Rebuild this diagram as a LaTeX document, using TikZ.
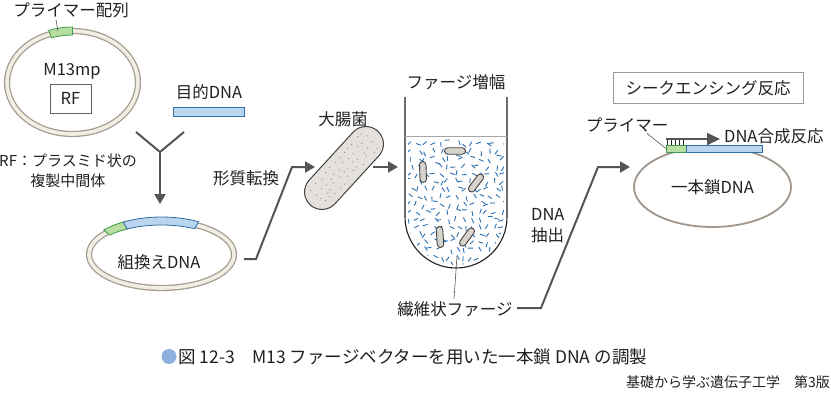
\documentclass[tikz,border=0pt]{standalone}
\usepackage{fontspec}
\setmainfont{Noto Sans CJK JP}
\usetikzlibrary{arrows.meta,shapes.geometric,shapes.misc}

\definecolor{txt}{HTML}{231F20}
\definecolor{conn}{HTML}{555555}
\definecolor{ringline}{HTML}{A69C92}
\definecolor{ringfill}{HTML}{F1EEE3}
\definecolor{primfill}{HTML}{B7DDA0}
\definecolor{primline}{HTML}{3D9B4B}
\definecolor{dnafill}{HTML}{BAD6EF}
\definecolor{dnaline}{HTML}{2F6EA5}
\definecolor{phageblue}{HTML}{2A6FB0}
\definecolor{cellfill}{HTML}{E4E1DD}
\definecolor{smallcell}{HTML}{D6D2CC}
\definecolor{dotgray}{HTML}{8C8C8C}
\definecolor{ssline}{HTML}{A0968C}
\definecolor{capblue}{HTML}{8EB0DC}

\begin{document}
\begin{tikzpicture}[x=1pt, y=-1pt,
    lbl/.style={font=\fontsize{16.5}{21}\selectfont, text=txt, inner sep=0pt},
    note/.style={font=\fontsize{15}{20}\selectfont, text=txt, inner sep=0pt},
    ring/.style={ellipse, draw=ringline, double=ringfill, double distance=3.6pt, line width=1.3pt, inner sep=0pt},
    flow/.style={draw=conn, line width=2pt, -{Triangle[width=11pt,length=10pt]}},
    primseg/.style={draw=primline, fill=primfill, line width=0.8pt},
    dnaseg/.style={draw=dnaline, fill=dnafill, line width=0.8pt},
    cell/.style={rounded rectangle, draw=txt!85, fill=cellfill, line width=1pt, inner sep=0pt},
    phagecell/.style={cell, fill=smallcell, line width=0.9pt, minimum width=21, minimum height=6.5},
    phage/.style={draw=phageblue, line width=0.9pt},
    leader/.style={draw=conn, line width=0.6pt}]

\useasboundingbox (0,0) rectangle (831,408);
\pgfmathsetseed{12}

% M13mp RF
\node[ring, minimum width=131, minimum height=103] (m13) at (72.5,82.5) {};
\draw[primseg] ([shift={(-110:69.5 and 55.5)}]m13.center) arc[start angle=-110, end angle=-90, x radius=69.5, y radius=55.5]
    -- ([shift={(-90:61.5 and 47.5)}]m13.center) arc[start angle=-90, end angle=-110, x radius=61.5, y radius=47.5] -- cycle;
\node[lbl] (primlab) at (71,10) {プライマー配列};
\coordinate (primtip) at (58,31);
\draw[leader] (primlab.south) ++(-15,2) -- (primtip);
\node[lbl] (m13lab) at (72,71) {M13mp};
\node[lbl, draw=txt!70, line width=0.8pt, minimum width=41, minimum height=29] (rf) at (70.5,98.5) {RF};
\node[note, align=center] (rfnote) at (68,171) {RF：プラスミド状の\\複製中間体};

% target DNA
\node[lbl] (tgtlab) at (209,92) {目的DNA};
\node[dnaseg, minimum width=71, minimum height=9, inner sep=0pt] (tgt) at (208.5,111.5) {};

% ligation
\coordinate (yl) at (136,132);
\coordinate (yr) at (184,132);
\coordinate (yj) at (160,152);
\coordinate (ytip) at (160,204);
\draw[conn, line width=2pt] (yl) -- (yj) -- (yr);
\draw[flow] (yj) -- (ytip);

% recombinant DNA
\node[ring, minimum width=145, minimum height=67] (recomb) at (161.5,254.5) {};
\draw[primseg] ([shift={(-139:76.5 and 37.5)}]recomb.center) arc[start angle=-139, end angle=-120, x radius=76.5, y radius=37.5]
    -- ([shift={(-120:68.5 and 29.5)}]recomb.center) arc[start angle=-120, end angle=-139, x radius=68.5, y radius=29.5] -- cycle;
\draw[dnaseg] ([shift={(-120:76.5 and 37.5)}]recomb.center) arc[start angle=-120, end angle=-61, x radius=76.5, y radius=37.5]
    -- ([shift={(-61:68.5 and 29.5)}]recomb.center) arc[start angle=-61, end angle=-120, x radius=68.5, y radius=29.5] -- cycle;
\node[lbl] (recomblab) at (159,262) {組換えDNA};

% transformation
\coordinate (t1) at (244,259);
\coordinate (t2) at (256,259);
\coordinate (t3) at (292,167);
\coordinate (t4) at (315,167);
\draw[flow] (t1) -- (t2) -- (t3) -- (t4);
\node[lbl] (transf) at (246,178) {形質転換};

% E. coli
\node[lbl] (ecolab) at (343,119) {大腸菌};
\node[cell, minimum width=100, minimum height=35, rotate=47.5] (ecoli) at (344,168) {};
\begin{scope}[shift={(ecoli.center)}, rotate=47.5]
  \foreach \i in {0,...,11}
    \foreach \j in {0,...,3} {
      \pgfmathsetmacro\du{-38+6.9*\i+1.8*rand}
      \pgfmathsetmacro\dv{-10+6.7*\j+1.8*rand}
      \fill[dotgray] (\du,\dv) circle[radius=0.7];
    }
\end{scope}
\coordinate (e1) at (373,167);
\coordinate (e2) at (398,167);
\draw[flow] (e1) -- (e2);

% culture tube
\node[lbl] (amplab) at (456,82) {ファージ増幅};
\begin{scope}
  \clip (408,139) -- (408,217) arc[start angle=180, end angle=0, radius=48] -- (504,139) -- cycle;
  \foreach \i in {0,...,12}
    \foreach \j in {0,...,16} {
      \pgfmathsetmacro\px{410+7.8*\i+2.2*rand}
      \pgfmathsetmacro\py{142+7.6*\j+2.2*rand}
      \pgfmathsetmacro\pa{180*rnd}
      \draw[phage] (\px,\py) -- ++(\pa:5);
    }
\end{scope}
\draw[txt, line width=1.1pt] (405,97) -- (405,217) arc[start angle=180, end angle=0, radius=51] -- (507,97);
\draw[gray!70, line width=0.8pt] (405,136) -- (507,136);
\node[phagecell] (pc1) at (455,151) {};
\node[phagecell, rotate=92] (pc2) at (423,172) {};
\node[phagecell, rotate=53] (pc3) at (476,183) {};
\node[phagecell, rotate=94] (pc4) at (440,237) {};
\node[phagecell, rotate=54] (pc5) at (467,237) {};
\node[lbl] (philab) at (455,309) {繊維状ファージ};
\coordinate (phitip) at (457,256);
\draw[leader] (philab.north) ++(-1,-2) -- (phitip);

% DNA extraction
\coordinate (x1) at (517,308);
\coordinate (x2) at (541,308);
\coordinate (x3) at (598,167);
\coordinate (x4) at (630,167);
\draw[flow] (x1) -- (x2) -- (x3) -- (x4);
\node[lbl, align=left, anchor=west] (extlab) at (531,226) {DNA\\抽出};

% sequencing
\node[lbl, draw=gray!80, line width=0.9pt, minimum width=190, minimum height=31] (seqbox) at (708,88) {シークエンシング反応};
\node[lbl, ellipse, draw=ssline, line width=1.8pt, minimum width=157, minimum height=80] (ssdna) at (712.5,187) {一本鎖DNA};
\node[primseg, minimum width=20, minimum height=7, inner sep=0pt, outer sep=0pt, anchor=west] (prim) at (666,148.5) {};
\node[dnaseg, minimum width=76, minimum height=7, inner sep=0pt, outer sep=0pt, anchor=west] (tmpl) at (prim.east) {};
\foreach \t in {1,5,...,17}
  \draw[txt, line width=0.8pt] ([xshift=\t pt]prim.north west) -- ++(0,-6);
\draw[conn, line width=2pt, -{Triangle[width=12pt,length=13pt]}] ([yshift=6pt]prim.north west) -- ++(54,0);
\node[lbl] (sprimlab) at (627,125) {プライマー};
\draw[leader] (sprimlab.south) ++(20,1) -- (prim.west);
\node[lbl, anchor=west] (synlab) at (724,136) {DNA合成反応};

% caption
\node[circle, fill=capblue, minimum size=15, inner sep=0pt] (capdot) at (169,356.5) {};
\node[font=\fontsize{17.5}{20}\selectfont, text=txt, inner sep=0pt, anchor=west] (cap) at (178,356.5) {図 12-3　M13 ファージベクターを用いた一本鎖 DNA の調製};
\node[font=\fontsize{14}{17}\selectfont, text=txt, inner sep=0pt, anchor=east] (book) at (830,382) {基礎から学ぶ遺伝子工学　第3版};
\end{tikzpicture}
\end{document}
